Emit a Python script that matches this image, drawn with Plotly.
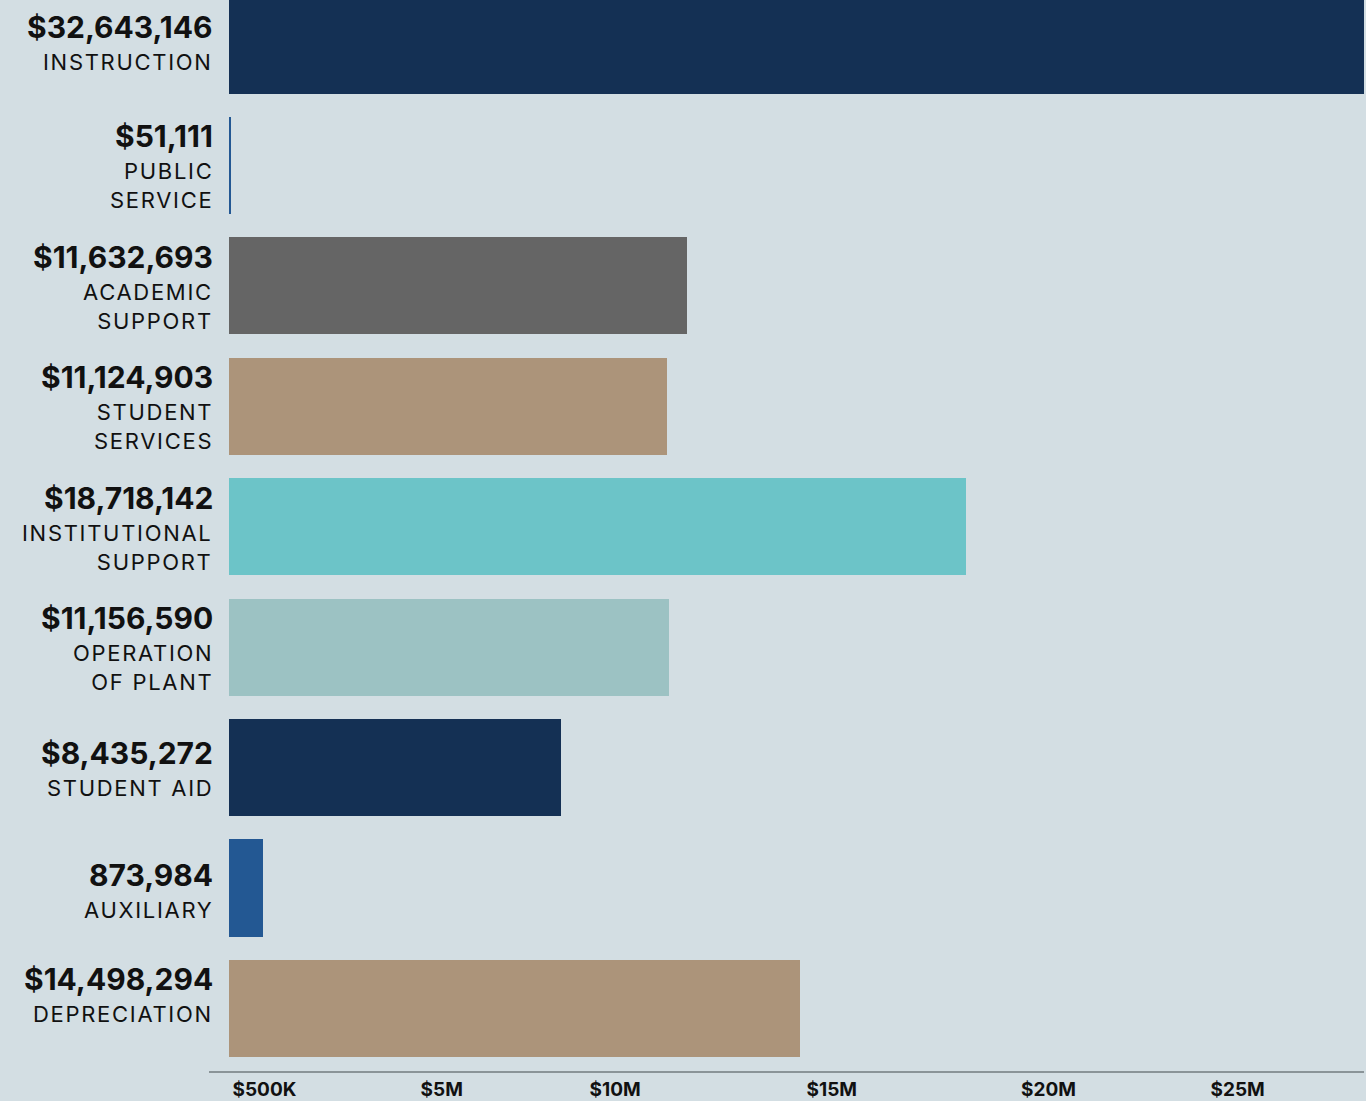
import plotly.graph_objects as go

categories = ["INSTRUCTION", "PUBLIC<br>SERVICE", "ACADEMIC<br>SUPPORT", "STUDENT<br>SERVICES",
              "INSTITUTIONAL<br>SUPPORT", "OPERATION<br>OF PLANT", "STUDENT AID", "AUXILIARY", "DEPRECIATION"]
amounts = [32643146, 51111, 11632693, 11124903, 18718142, 11156590, 8435272, 873984, 14498294]
value_labels = ["$32,643,146", "$51,111", "$11,632,693", "$11,124,903", "$18,718,142",
                "$11,156,590", "$8,435,272", "873,984", "$14,498,294"]
bar_colors = ["#143054", "#235893", "#656565", "#ac947a", "#6cc4c8", "#9cc2c3", "#143054", "#235893", "#ac947a"]

x_tick_positions = [0.9e6, 5.4e6, 9.8e6, 15.3e6, 20.8e6, 25.6e6]
x_tick_labels = ["$500K", "$5M", "$10M", "$15M", "$20M", "$25M"]

positions = list(range(len(categories)))
# per-row vertical nudge of the label block, in px (style, positive = up)
label_nudge = [0, 1, 0, 0, 0, 0, -3.5, -5.5, 11]

fig = go.Figure(go.Bar(
    x=amounts, y=positions, orientation="h",
    marker=dict(color=bar_colors, line=dict(width=0)),
    width=0.806, hoverinfo="skip",
))

W, H = 1366, 1101
ml, mr, mt, mb = 209, 2, 0, 30
pw = W - ml - mr
px_per_unit = 39.4 / 1e6
label_x = (215 - ml) / pw

for pos, val, cat, nudge in zip(positions, value_labels, categories, label_nudge):
    nlines = cat.count("<br>") + 1
    fig.add_annotation(
        xref="paper", yref="y", x=label_x, y=pos, xanchor="right", yanchor="middle",
        yshift=(18 if nlines == 1 else 29) + nudge, showarrow=False,
        text=f"<b>{val}</b>", align="right",
        font=dict(size=30, color="#111111", family="Inter, sans-serif"),
    )
    fig.add_annotation(
        xref="paper", yref="y", x=label_x, y=pos, xanchor="right", yanchor="middle",
        yshift=(-17 if nlines == 1 else -20.5) + nudge, showarrow=False,
        text="<br>".join(f"<span style='letter-spacing:1.7px'>{p}</span>" for p in cat.split("<br>")),
        align="right",
        font=dict(size=22, color="#111111", family="Inter, sans-serif"),
    )

fig.update_layout(
    width=W, height=H,
    margin=dict(l=ml, r=mr, t=mt, b=mb, autoexpand=False),
    paper_bgcolor="#d3dee3", plot_bgcolor="#d3dee3",
    font=dict(family="Inter, Noto Sans, sans-serif", color="#111111"),
    showlegend=False,
    bargap=0,
)
fig.update_xaxes(
    range=[-(229 - ml) / px_per_unit, (W - mr - 229) / px_per_unit],
    tickvals=x_tick_positions, ticktext=x_tick_labels,
    tickfont=dict(size=19, color="#111111", family="Inter, sans-serif", weight="bold"),
    showgrid=False, zeroline=False, showline=True, linecolor="#8a9498", linewidth=1.5,
    ticks="", automargin=False,
)
fig.update_yaxes(
    range=[8.52, -0.375], showticklabels=False,
    showgrid=False, zeroline=False, showline=False, ticks="", automargin=False,
)

fig.write_html("out.html", config={"displayModeBar": False},
               post_script="document.body.style.margin='0';document.body.style.background='#d3dee3';")
